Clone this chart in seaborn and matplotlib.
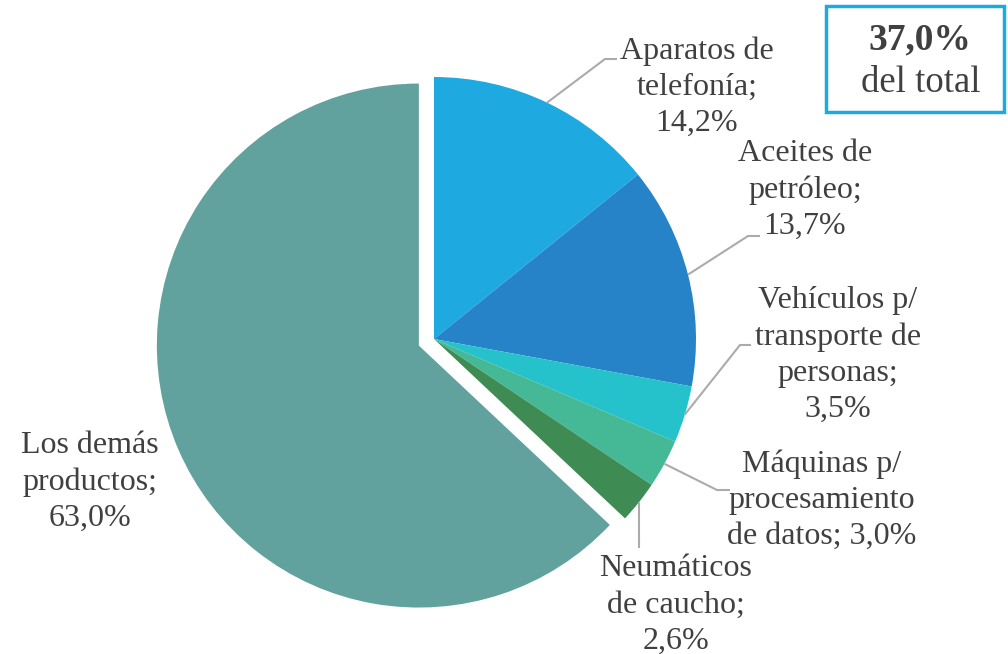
import numpy as np
import matplotlib
matplotlib.use("Agg")
import matplotlib.pyplot as plt
import seaborn as sns
from matplotlib.patches import Rectangle

# ---- data ----
categories = ["Aparatos de\ntelefonía", "Aceites de\npetróleo", "Vehículos p/\ntransporte de\npersonas",
              "Máquinas p/\nprocesamiento\nde datos", "Neumáticos\nde caucho", "Los demás\nproductos"]
values = [14.2, 13.7, 3.5, 3.0, 2.6, 63.0]
value_labels = ["14,2%", "13,7%", "3,5%", "3,0%", "2,6%", "63,0%"]
box_value = "37,0%"
box_text = "del total"

colors = ["#1EAAE1", "#2783C8", "#26C2CB", "#45B995", "#3F8B54", "#62A29E"]

sns.set_theme(style="white")
plt.rcParams['font.family'] = ['Liberation Serif', 'DejaVu Serif']

W, H = 1008, 654
fig = plt.figure(figsize=(W / 100, H / 100), dpi=100)
ax = fig.add_axes([0, 0, 1, 1])

def P(x, y):
    return (x, H - y)

cx, cy = P(434, 339)
R = 262
explode = [0, 0, 0, 0, 0, 16.5]
wedges, _ = ax.pie(values, colors=colors, startangle=90, counterclock=False,
                   explode=explode, center=(cx, cy), radius=R,
                   wedgeprops=dict(linewidth=0))
ax.set_xlim(0, W)
ax.set_ylim(0, H)
ax.set_aspect('equal')
ax.axis('off')

txt_color = "#404040"
line_color = "#ABABAB"
fs = 23

layout = [
    dict(pos=(697, 87), path=[(605, 59), (617, 59)], text=categories[0] + ";\n" + value_labels[0]),
    dict(pos=(805, 190), path=[(748, 236), (760, 236)], text=categories[1] + ";\n" + value_labels[1]),
    dict(pos=(838, 355), path=[(740, 345), (751, 345)], text=categories[2] + ";\n" + value_labels[2]),
    dict(pos=(822, 500), path=[(717, 490), (730, 490)], text="Máquinas p/\nprocesamiento\nde datos; " + value_labels[3]),
    dict(pos=(676, 605), path=[(639, 548)], text=categories[4] + ";\n" + value_labels[4]),
    dict(pos=(90, 482), path=None, text=categories[5] + ";\n" + value_labels[5]),
]

cum = np.cumsum([0] + values)
for i, lay in enumerate(layout):
    x, y = P(*lay["pos"])
    ax.text(x, y, lay["text"], ha="center", va="center", fontsize=fs,
            color=txt_color, linespacing=1.32)
    if lay["path"]:
        mid = 90 - (cum[i] + values[i] / 2) * 3.6
        ex = cx + R * np.cos(np.radians(mid))
        ey = cy + R * np.sin(np.radians(mid))
        pts = [(ex, ey)] + [P(*p) for p in lay["path"]]
        xs, ys = zip(*pts)
        ax.plot(xs, ys, color=line_color, lw=1.5, solid_capstyle="butt")

# box
x0, y0, x1, y1 = 826, 6, 1004, 112
ax.add_patch(Rectangle(P(x0, y1), x1 - x0, y1 - y0, fill=False,
                       edgecolor="#1EAAE1", lw=2.5))
ax.text(*P(920, 40), box_value, ha="center", va="center", fontsize=27,
        fontweight="bold", color=txt_color)
ax.text(*P(921, 83), box_text, ha="center", va="center", fontsize=26.5,
        color=txt_color)

fig.savefig("out.png", dpi=100)
